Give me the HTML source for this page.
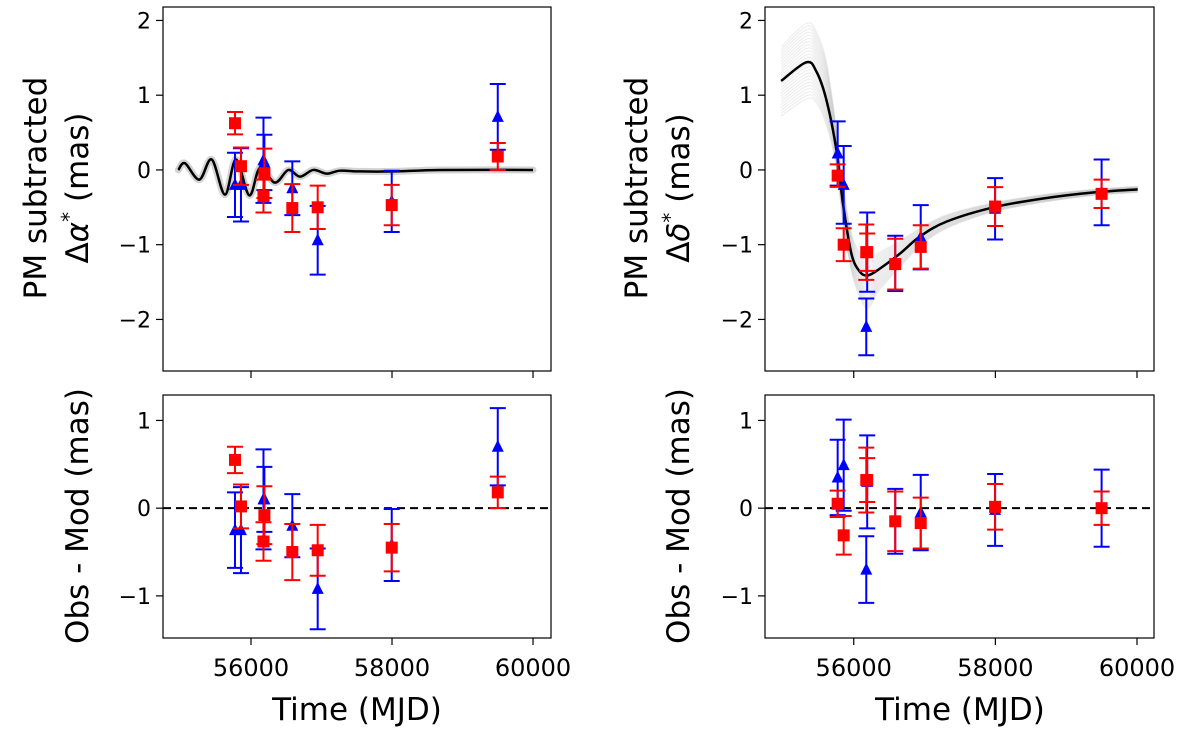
<!DOCTYPE html>
<html><head><meta charset="utf-8"><style>
html,body{margin:0;padding:0;background:#fff}
svg{display:block}
text{font-family:"DejaVu Sans","Liberation Sans",sans-serif;fill:#000}
</style></head><body>
<svg id="fig" width="1184" height="738" viewBox="0 0 1184 738" xmlns="http://www.w3.org/2000/svg"></svg>
<script>
// ---------- data ----------
const epochs = [55773, 55858, 56177, 56190, 56586, 56946, 57996, 59500];
const raRed = [0.625, 0.05, -0.35, -0.045, -0.51, -0.5, -0.47, 0.18];
const raRedErr = [0.15, 0.25, 0.22, 0.33, 0.32, 0.29, 0.27, 0.18];
const raBlue = [-0.2, -0.2, 0.13, 0.1, -0.245, -0.94, -0.42, 0.71];
const raBlueErr = [0.43, 0.49, 0.57, 0.37, 0.36, 0.46, 0.41, 0.44];
const decRed = [-0.076, -1.0, -1.1, -1.1, -1.26, -1.03, -0.49, -0.32];
const decRedErr = [0.15, 0.22, 0.37, 0.25, 0.34, 0.29, 0.26, 0.19];
const decBlue = [0.22, -0.2, -2.1, -1.1, -1.25, -0.9, -0.52, -0.3];
const decBlueErr = [0.43, 0.52, 0.38, 0.53, 0.37, 0.43, 0.41, 0.44];
const raResRed = [0.55, 0.02, -0.38, -0.08, -0.5, -0.48, -0.45, 0.18];
const raResBlue = [-0.25, -0.25, 0.1, 0.1, -0.2, -0.92, -0.42, 0.7];
const decResRed = [0.05, -0.31, 0.32, 0.32, -0.15, -0.17, 0.015, 0.0];
const decResBlue = [0.35, 0.49, -0.7, 0.3, -0.15, -0.05, -0.02, 0.0];
const raModelT = [54969, 55064, 55267, 55443, 55631, 55787, 55976, 56128, 56340, 56529, 56695, 56884, 57073, 57262, 57546, 58014, 58700, 60000];
const raModelV = [0.0, 0.09, -0.13, 0.14, -0.33, 0.14, -0.34, 0.03, -0.17, 0.0, -0.09, 0.0, -0.05, -0.01, -0.02, -0.02, 0.0, 0.0];
const decModelT = [54975, 55329, 55471, 55613, 55755, 55848, 55967, 56085, 56203, 56369, 56652, 56936, 57314, 57976, 58686, 59395, 60010];
const decModelV = [1.19, 1.44, 1.32, 0.94, 0.27, -0.45, -1.12, -1.36, -1.41, -1.32, -1.12, -0.89, -0.69, -0.5, -0.38, -0.3, -0.26];
const decEnvLo = [0.72, 0.95, 0.9, 0.6, 0.05, -0.7, -1.35, -1.7, -1.85, -1.6, -1.3, -1.02, -0.78, -0.56, -0.43, -0.34, -0.3];
const decEnvHi = [1.65, 1.96, 1.85, 1.45, 0.55, -0.2, -0.85, -1.1, -1.2, -1.1, -0.95, -0.78, -0.6, -0.44, -0.33, -0.26, -0.22];
const xTicks = [56000, 58000, 60000];
const topYTicks = [2, 1, 0, -1, -2];
const botYTicks = [1, 0, -1];

// ---------- helpers ----------
const NS = "http://www.w3.org/2000/svg";
const svg = document.getElementById('fig');
function mk(tag, attrs, parent) {
  const e = document.createElementNS(NS, tag);
  for (const k in attrs) e.setAttribute(k, attrs[k]);
  (parent || svg).appendChild(e);
  return e;
}
function axes(x0, x1, y0, y1, t0, t1, v0, v1) {
  return {
    x: t => x0 + (t - t0) / (t1 - t0) * (x1 - x0),
    y: v => y0 + (v1 - v) / (v1 - v0) * (y1 - y0),
    x0, x1, y0, y1
  };
}
function smoothPath(pts) {
  let d = `M${pts[0][0]},${pts[0][1]}`;
  for (let i = 0; i < pts.length - 1; i++) {
    const p0 = pts[Math.max(0, i - 1)], p1 = pts[i], p2 = pts[i + 1], p3 = pts[Math.min(pts.length - 1, i + 2)];
    const c1x = p1[0] + (p2[0] - p0[0]) / 6, c1y = p1[1] + (p2[1] - p0[1]) / 6;
    const c2x = p2[0] - (p3[0] - p1[0]) / 6, c2y = p2[1] - (p3[1] - p1[1]) / 6;
    d += ` C${c1x},${c1y} ${c2x},${c2y} ${p2[0]},${p2[1]}`;
  }
  return d;
}
function frame(ax, name, yticks, xlabels) {
  const g = mk('g', {});
  
  
  const r = mk('rect', {x: ax.x0, y: ax.y0, width: ax.x1 - ax.x0, height: ax.y1 - ax.y0, fill: 'none', stroke: '#000', 'stroke-width': 1.2}, g);
  
  
  yticks.forEach(v => {
    const y = ax.y(v);
    mk('line', {x1: ax.x0 - 7, x2: ax.x0, y1: y, y2: y, stroke: '#000', 'stroke-width': 1.2}, g);
    const t = mk('text', {x: ax.x0 - 12, y: y + 8, 'font-size': 22, 'text-anchor': 'end'}, g);
    t.textContent = v < 0 ? '\u2212' + Math.abs(v) : String(v);
    
    
  });
  xTicks.forEach(tv => {
    const x = ax.x(tv);
    mk('line', {x1: x, x2: x, y1: ax.y1, y2: ax.y1 + 7, stroke: '#000', 'stroke-width': 1.2}, g);
    if (xlabels) {
      const t = mk('text', {x: x, y: ax.y1 + 38, 'font-size': 24, 'text-anchor': 'middle'}, g);
      t.textContent = String(tv);
      
      
    }
  });
  return g;
}
function errSeries(ax, vals, errs, color, marker, name) {
  const g = mk('g', {});
  
  
  epochs.forEach((t, i) => {
    const x = ax.x(t), y = ax.y(vals[i]), ya = ax.y(vals[i] + errs[i]), yb = ax.y(vals[i] - errs[i]);
    mk('line', {x1: x, x2: x, y1: ya, y2: yb, stroke: color, 'stroke-width': 2}, g);
    mk('line', {x1: x - 8, x2: x + 8, y1: ya, y2: ya, stroke: color, 'stroke-width': 2}, g);
    mk('line', {x1: x - 8, x2: x + 8, y1: yb, y2: yb, stroke: color, 'stroke-width': 2}, g);
    let m;
    if (marker === 'sq') m = mk('rect', {x: x - 6, y: y - 6, width: 12, height: 12, fill: color}, g);
    else m = mk('polygon', {points: `${x},${y - 7} ${x - 6},${y + 5} ${x + 6},${y + 5}`, fill: color}, g);
    
    
  });
}
function label(x, y, str, size, rot, name) {
  const t = mk('text', {x: x, y: y, 'font-size': size, 'text-anchor': 'middle', transform: rot ? `rotate(-90 ${x} ${y})` : ''});
  t.innerHTML = str;
  
  
  return t;
}

// ---------- panels ----------
const T0 = 54752, T1 = 60255;
const axRA = axes(163, 551, 7, 371, T0, T1, -2.69, 2.18);
const axDE = axes(765, 1154, 7, 371, T0 - 5, T1 - 15, -2.69, 2.18);
const axRAr = axes(163, 551, 395, 638, T0, T1, -1.48, 1.29);
const axDEr = axes(765, 1154, 395, 638, T0 - 5, T1 - 15, -1.48, 1.29);

frame(axRA, 'ra-panel', topYTicks, false);
frame(axDE, 'dec-panel', topYTicks, false);
frame(axRAr, 'ra-residual-panel', botYTicks, true);
frame(axDEr, 'dec-residual-panel', botYTicks, true);

// RA model
const raPts = raModelT.map((t, i) => [axRA.x(t), axRA.y(raModelV[i])]);
let p = mk('path', {d: smoothPath(raPts), fill: 'none', stroke: '#d4d4d4', 'stroke-width': 7, 'stroke-linecap': 'round'});


p = mk('path', {d: smoothPath(raPts), fill: 'none', stroke: '#000', 'stroke-width': 2.5});



// Dec ensemble
const NL = 24;
for (let k = 0; k <= NL; k++) {
  const f = k / NL;
  const pts = decModelT.map((t, i) => [axDE.x(t), axDE.y(decEnvLo[i] + f * (decEnvHi[i] - decEnvLo[i]))]);
  const e = mk('path', {d: smoothPath(pts), fill: 'none', stroke: '#bbb', 'stroke-opacity': 0.25, 'stroke-width': 1.2});
  
  
}
const decPts = decModelT.map((t, i) => [axDE.x(t), axDE.y(decModelV[i])]);
p = mk('path', {d: smoothPath(decPts), fill: 'none', stroke: '#000', 'stroke-width': 2.5});



// zero lines
[axRAr, axDEr].forEach(ax => {
  const l = mk('line', {x1: ax.x0, x2: ax.x1, y1: ax.y(0), y2: ax.y(0), stroke: '#000', 'stroke-width': 2, 'stroke-dasharray': '8,5'});
  
  
});

// data
errSeries(axRA, raBlue, raBlueErr, '#0000ff', 'tri', 'ra-blue-series');
errSeries(axRA, raRed, raRedErr, '#ff0000', 'sq', 'ra-red-series');
errSeries(axDE, decBlue, decBlueErr, '#0000ff', 'tri', 'dec-blue-series');
errSeries(axDE, decRed, decRedErr, '#ff0000', 'sq', 'dec-red-series');
errSeries(axRAr, raResBlue, raBlueErr, '#0000ff', 'tri', 'ra-res-blue-series');
errSeries(axRAr, raResRed, raRedErr, '#ff0000', 'sq', 'ra-res-red-series');
errSeries(axDEr, decResBlue, decBlueErr, '#0000ff', 'tri', 'dec-res-blue-series');
errSeries(axDEr, decResRed, decRedErr, '#ff0000', 'sq', 'dec-res-red-series');

// labels
label(46, 188, 'PM subtracted', 31, true, 'ra-y-title-line1');
label(88, 188, '\u0394<tspan font-style="italic">\u03b1</tspan><tspan dy="-12" font-size="20">*</tspan><tspan dy="12"> (mas)</tspan>', 31, true, 'ra-y-title-line2');
label(647, 188, 'PM subtracted', 31, true, 'dec-y-title-line1');
label(689, 188, '\u0394<tspan font-style="italic">\u03b4</tspan><tspan dy="-12" font-size="20">*</tspan><tspan dy="12"> (mas)</tspan>', 31, true, 'dec-y-title-line2');
label(88, 516, 'Obs - Mod (mas)', 31, true, 'ra-res-y-title');
label(689, 516, 'Obs - Mod (mas)', 31, true, 'dec-res-y-title');
label(357, 720, 'Time (MJD)', 31, false, 'ra-x-title');
label(960, 720, 'Time (MJD)', 31, false, 'dec-x-title');
</script>
</body></html>
